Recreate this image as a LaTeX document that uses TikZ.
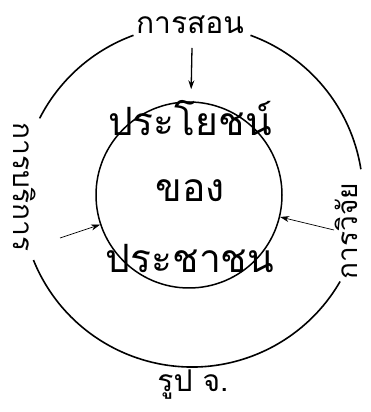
\documentclass[tikz,border=0pt]{standalone}
\usepackage{fontspec}
\newfontfamily\thaifont[Script=Thai]{Loma}
\usetikzlibrary{arrows.meta}

\begin{document}
\begin{tikzpicture}[x=1pt,y=1pt,
    word/.style={font=\thaifont\fontsize{30}{30}\selectfont, inner sep=0pt},
    sideword/.style={font=\thaifont\fontsize{28}{28}\selectfont, inner sep=0pt},
    bigword/.style={font=\thaifont\fontsize{39}{39}\selectfont, inner sep=0pt},
    ring/.style={line width=1.6pt},
    arr/.style={-{Stealth[length=9pt,width=6pt]}, line width=0.7pt}]
    \useasboundingbox (0,0) rectangle (370,412);

    % Outer ring, broken where the three labels sit
    \draw[ring] (192,216) ++(9:171pt) arc (9:70:171pt);
    \draw[ring] (192,216) ++(110:171pt) arc (110:153:171pt);
    \draw[ring] (192,216) ++(202:171pt) arc (202:330:171pt);

    % Labels on the outer ring
    \node[word] (teach) at (190,387) {การสอน};
    \node[sideword, rotate=-90] (service) at (25,225) {การบริการ};
    \node[sideword, rotate=90] (research) at (346,181) {การวิจัย};

    % Inner circle
    \node[draw, circle, line width=1.5pt, minimum size=186pt, inner sep=0pt] (inner) at (189,217) {};
    \node[bigword] (benefit) at (190,294) {ประโยชน์};
    \node[bigword] (of) at (190,221) {ของ};
    \node[bigword] (people) at (190,153) {ประชาชน};

    % Arrows into the inner circle
    \coordinate (teachtail) at (192,364);
    \coordinate (servicetail) at (60,174);
    \coordinate (researchtail) at (334,182);
    \draw[arr, line width=1.3pt, shorten >=12pt] (teachtail) -- (inner);
    \draw[arr] (servicetail) -- (inner);
    \draw[arr] (researchtail) -- (inner);

    % Caption
    \node[word] (fig) at (193,27) {รูป จ.};
\end{tikzpicture}
\end{document}
